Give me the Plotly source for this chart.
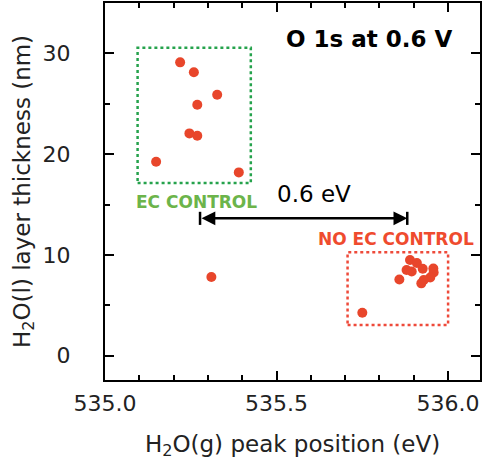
import plotly.graph_objects as go

# Data
ec_x = [535.219, 535.259, 535.327, 535.269, 535.246, 535.269, 535.149, 535.390]
ec_y = [29.11, 28.12, 25.89, 24.90, 22.06, 21.83, 19.25, 18.19]

other_x = [535.310, 535.750]
other_y = [7.81, 4.27]

noec_x = [535.858, 535.889, 535.909, 535.879, 535.894, 535.926, 535.957, 535.958, 535.948, 535.929, 535.922]
noec_y = [7.56, 9.49, 9.20, 8.50, 8.35, 8.63, 8.65, 8.25, 7.76, 7.51, 7.18]

ec_box_x = [535.095, 535.425]
ec_box_y = [17.13, 30.56]
noec_box_x = [535.707, 536.000]
noec_box_y = [3.05, 10.26]
shift_x = [535.277, 535.881]
shift_y = 13.63

x_ticks = [535.0, 535.5, 536.0]
x_ticklabels = ["535.0", "535.5", "536.0"]
y_ticks = [0, 10, 20, 30]

FONT = "DejaVu Sans"
DOT = "#e8462b"
GREEN_BOX = "#25a24c"
GREEN_TXT = "#6cb44a"
RED_BOX = "#ee4a3a"
RED_TXT = "#ef4b2e"

fig = go.Figure()
fig.add_trace(go.Scatter(
    x=ec_x + other_x + noec_x, y=ec_y + other_y + noec_y,
    mode="markers", marker=dict(size=10, color=DOT, line=dict(width=0)),
    showlegend=False, hoverinfo="x+y"))

shapes = [
    dict(type="rect", xref="x", yref="y", x0=ec_box_x[0], x1=ec_box_x[1],
         y0=ec_box_y[0], y1=ec_box_y[1], line=dict(color=GREEN_BOX, width=2.5, dash="dot")),
    dict(type="rect", xref="x", yref="y", x0=noec_box_x[0], x1=noec_box_x[1],
         y0=noec_box_y[0], y1=noec_box_y[1], line=dict(color=RED_BOX, width=2.5, dash="dot")),
]
for sx in shift_x:
    shapes.append(dict(type="line", xref="x", yref="y", x0=sx, x1=sx,
                       y0=shift_y - 0.65, y1=shift_y + 0.65, line=dict(color="black", width=2.5)))

annotations = [
    dict(x=shift_x[1], y=shift_y, ax=shift_x[0], ay=shift_y, xref="x", yref="y",
         axref="x", ayref="y", text="", showarrow=True, arrowhead=2, arrowside="end+start",
         arrowsize=1.1, arrowwidth=2.5, arrowcolor="black", standoff=0, startstandoff=0),
    dict(x=535.772, y=31.47, xref="x", yref="y", text="<b>O 1s at 0.6 V</b>", showarrow=False,
         font=dict(family=FONT, size=23, color="black")),
    dict(x=535.609, y=16.04, xref="x", yref="y", text="0.6 eV", showarrow=False,
         font=dict(family=FONT, size=23, color="black")),
    dict(x=535.267, y=15.30, xref="x", yref="y", text="<b>EC CONTROL</b>", showarrow=False,
         font=dict(family=FONT, size=17, color=GREEN_TXT)),
    dict(x=535.848, y=11.63, xref="x", yref="y", text="<b>NO EC CONTROL</b>", showarrow=False,
         font=dict(family=FONT, size=17, color=RED_TXT)),
]

axis_common = dict(
    showline=True, linecolor="black", linewidth=2, mirror="allticks",
    ticks="inside", tickcolor="black", tickwidth=2, ticklen=9,
    showgrid=False, zeroline=False, automargin=False,
    tickfont=dict(family=FONT, size=22, color="#222"),
)

fig.update_layout(
    width=482, height=466,
    margin=dict(l=105, r=2, t=3, b=86, autoexpand=False),
    paper_bgcolor="white", plot_bgcolor="white",
    shapes=shapes, annotations=annotations,
    xaxis=dict(axis_common, range=[535.0, 536.093], tickvals=x_ticks, ticktext=x_ticklabels,
               minor=dict(dtick=0.1, tick0=535.0, ticks="inside", ticklen=5, tickwidth=2, tickcolor="black"),
               ticklabelstandoff=3,
               title=dict(text="H<sub>2</sub>O(g) peak position (eV)", standoff=20,
                          font=dict(family=FONT, size=23, color="#222"))),
    yaxis=dict(axis_common, range=[-2.41, 35.0], tickvals=y_ticks,
               minor=dict(dtick=5, tick0=0, ticks="inside", ticklen=5, tickwidth=2, tickcolor="black"),
               ticklabelstandoff=28,
               title=dict(text="H<sub>2</sub>O(l) layer thickness (nm)", standoff=6,
                          font=dict(family=FONT, size=23, color="#222"))),
)

fig.write_html("out.html", config={"displayModeBar": False},
               post_script="document.body.style.margin='0';document.body.style.overflow='hidden';")
